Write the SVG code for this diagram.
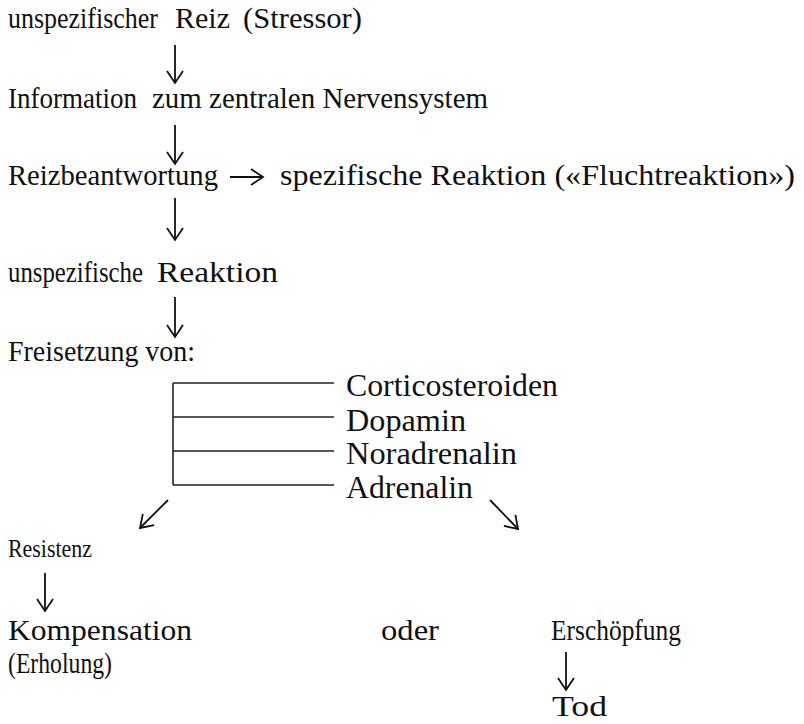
<svg xmlns="http://www.w3.org/2000/svg" width="804" height="724" viewBox="0 0 804 724">
<style>
text{font-family:"Liberation Serif","Times New Roman",serif;fill:#111;font-size:29px}
.lbl{font-size:31px}
.sm{font-size:25px}
.bt{font-size:30px}
.c{stroke:#111;stroke-width:1.8;fill:none}
.br{stroke:#222;stroke-width:1.6;fill:none}
</style>
<defs>
<marker id="ah" markerUnits="userSpaceOnUse" markerWidth="30" markerHeight="30" viewBox="-15 -15 30 30" refX="0" refY="0" orient="auto">
<path d="M-12,-8 L0,0 L-12,8" fill="none" stroke="#111" stroke-width="1.8"/>
</marker>
</defs>
<rect width="804" height="724" fill="#fff"/>
<g id="n1"><text x="8" y="28" textLength="150" lengthAdjust="spacingAndGlyphs">unspezifischer</text><text x="175" y="28" textLength="55" lengthAdjust="spacingAndGlyphs">Reiz</text><text x="243" y="28" textLength="119" lengthAdjust="spacingAndGlyphs">(Stressor)</text></g>
<g id="n2"><text x="8" y="108" textLength="129" lengthAdjust="spacingAndGlyphs">Information</text><text x="152" y="108" textLength="336" lengthAdjust="spacingAndGlyphs">zum zentralen Nervensystem</text></g>
<g id="n3"><text x="8" y="185" textLength="210" lengthAdjust="spacingAndGlyphs">Reizbeantwortung</text></g>
<g id="n4"><text x="280" y="185" textLength="515" lengthAdjust="spacingAndGlyphs">spezifische Reaktion («Fluchtreaktion»)</text></g>
<g id="n5"><text x="8" y="282" textLength="135" lengthAdjust="spacingAndGlyphs">unspezifische</text><text class="bt" x="157" y="282" textLength="121" lengthAdjust="spacingAndGlyphs">Reaktion</text></g>
<g id="n6"><text x="8" y="361" textLength="187" lengthAdjust="spacingAndGlyphs">Freisetzung von:</text></g>
<g id="bracket"><path class="br" d="M173,383 V485 M173,383 H334 M173,417 H334 M173,451 H334 M173,485 H334"/></g>
<g id="n7"><text class="lbl" x="346" y="396" textLength="212" lengthAdjust="spacingAndGlyphs">Corticosteroiden</text></g>
<g id="n8"><text class="lbl" x="346" y="431" textLength="120" lengthAdjust="spacingAndGlyphs">Dopamin</text></g>
<g id="n9"><text class="lbl" x="346" y="464" textLength="171" lengthAdjust="spacingAndGlyphs">Noradrenalin</text></g>
<g id="n10"><text class="lbl" x="346" y="498" textLength="127" lengthAdjust="spacingAndGlyphs">Adrenalin</text></g>
<g id="n11"><text class="sm" x="8" y="557" textLength="84" lengthAdjust="spacingAndGlyphs">Resistenz</text></g>
<g id="n12"><text x="8" y="640" textLength="184" lengthAdjust="spacingAndGlyphs">Kompensation</text><text x="8" y="673" textLength="104" lengthAdjust="spacingAndGlyphs">(Erholung)</text></g>
<g id="n13"><text class="bt" x="381" y="640" textLength="58" lengthAdjust="spacingAndGlyphs">oder</text></g>
<g id="n14"><text class="bt" x="551" y="640" textLength="130" lengthAdjust="spacingAndGlyphs">Erschöpfung</text></g>
<g id="n15"><text class="bt" x="552" y="716" textLength="55" lengthAdjust="spacingAndGlyphs">Tod</text></g>
<g id="connectors">
<line class="c" x1="175" y1="45" x2="175" y2="83" marker-end="url(#ah)"/>
<line class="c" x1="175" y1="125" x2="175" y2="164" marker-end="url(#ah)"/>
<line class="c" x1="230" y1="177" x2="263" y2="177" marker-end="url(#ah)"/>
<line class="c" x1="175" y1="198" x2="175" y2="240" marker-end="url(#ah)"/>
<line class="c" x1="175" y1="297" x2="175" y2="337" marker-end="url(#ah)"/>
<line class="c" x1="168" y1="500" x2="140" y2="528" marker-end="url(#ah)"/>
<line class="c" x1="490" y1="500" x2="518" y2="529" marker-end="url(#ah)"/>
<line class="c" x1="45" y1="573" x2="45" y2="611" marker-end="url(#ah)"/>
<line class="c" x1="566" y1="652" x2="566" y2="690" marker-end="url(#ah)"/>
</g>
</svg>
